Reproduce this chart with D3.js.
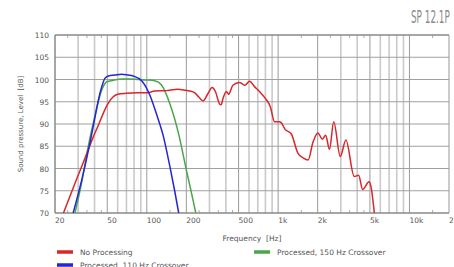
<!DOCTYPE html>
<html>
<head>
<meta charset="utf-8">
<script src="https://cdn.jsdelivr.net/npm/d3@7"></script>
<style>
  body { margin: 0; background: #fff; }
  text { font-family: "DejaVu Sans", Verdana, sans-serif; fill: #555; }
</style>
</head>
<body>
<script>
// frequency response of SP 12.1P
var freqTicks = [20, 50, 100, 200, 500, 1000, 2000, 5000, 10000, 20000];
var freqLabels = ["20", "50", "100", "200", "500", "1k", "2k", "5k", "10k", "20k"];
var minorTicks = [25, 35, 45, 150, 250, 350, 450, 1500, 2500, 3500, 4500, 15000];
var dbTicks = [70, 75, 80, 85, 90, 95, 100, 105, 110];

var redFreq = [23.2, 28.4, 32, 35.8, 39, 42.6, 46, 50, 55, 60, 70, 85, 100, 115, 140, 172, 195, 212, 232, 250, 268, 293, 314, 333, 358, 368, 381, 404, 420, 452, 508, 558, 606, 661, 720, 807, 872, 939, 1020, 1054, 1130, 1258, 1416, 1548, 1692, 1846, 2008, 2170, 2300, 2460, 2650, 2974, 3280, 3800, 4100, 4400, 4930, 5100, 5400];
var redDb   = [70, 76.7, 80.5, 84.2, 87.0, 89.6, 92.0, 94.3, 96.0, 96.7, 96.9, 97.0, 97.0, 97.4, 97.5, 97.8, 97.6, 97.4, 97.0, 96.0, 95.2, 96.9, 98.2, 97.3, 94.5, 94.3, 95.8, 97.3, 96.7, 98.7, 99.3, 98.7, 99.6, 98.4, 97.3, 95.6, 93.9, 90.5, 90.5, 90.3, 88.8, 87.8, 83.4, 82.4, 81.9, 86.0, 88.0, 86.6, 87.5, 84.3, 90.5, 82.7, 86.4, 78.2, 78.5, 75.3, 77.0, 75.8, 70];

var blueFreq = [27.5, 32, 36.9, 40, 44, 48.1, 51, 57, 64.2, 72, 78.6, 91.4, 105.4, 118, 133, 150, 163, 175];
var blueDb   = [70, 77.5, 85.7, 91, 96.9, 100.3, 100.8, 101.0, 101.2, 101.0, 100.8, 99.7, 96.5, 92.4, 87.5, 80.4, 75, 70];

var greenFreq = [28.4, 32, 35.8, 40, 45.3, 49.6, 55, 64, 75, 85.6, 100, 115, 129, 150, 174, 200, 225, 236];
var greenDb   = [70, 77, 84.9, 91.5, 97.6, 99.5, 99.8, 100.1, 100.1, 100.0, 99.9, 99.7, 98.8, 94.5, 88.0, 79.7, 72.9, 70];

var seriesNames = ["No Processing", "Processed, 110 Hz Crossover", "Processed, 150 Hz Crossover"];
var seriesColors = ["#d8262b", "#2424d8", "#4aa64a"];

var W = 454, H = 267;
var pLeft = 55, pRight = 449, pTop = 35, pBottom = 213;

var svg = d3.select("body").append("svg")
    .attr("width", W)
    .attr("height", H);

var x = d3.scaleLog().domain([20, 20000]).range([pLeft, pRight]);
var y = d3.scaleLinear().domain([70, 110]).range([pBottom, pTop]);

// vertical grid, every 1-2-..-9 of each decade
var gridF = [];
[10, 100, 1000, 10000].forEach(function(dec) {
    for (var k = 1; k <= 9; k++) {
        var f = dec * k;
        if (f > 20 && f < 20000) gridF.push(f);
    }
});
var strong = function(f) {
    var m = Math.round(f / Math.pow(10, Math.floor(Math.log10(f) + 1e-9)));
    return m === 1 || m === 2 || m === 5;
};

svg.append("g").selectAll("line").data(gridF).enter().append("line")
    .attr("x1", function(d) { return x(d); })
    .attr("x2", function(d) { return x(d); })
    .attr("y1", pTop).attr("y2", pBottom)
    .attr("stroke", function(d) { return strong(d) ? "#9a9a9a" : "#cacaca"; })
    .attr("stroke-width", function(d) { return strong(d) ? 1 : 1.6; });

svg.append("g").selectAll("line").data(dbTicks.slice(1, -1)).enter().append("line")
    .attr("x1", pLeft).attr("x2", pRight)
    .attr("y1", function(d) { return y(d); })
    .attr("y2", function(d) { return y(d); })
    .attr("stroke", "#a0a0a0")
    .attr("stroke-width", 1.2);

// minor ticks top and bottom
var mt = svg.append("g");
minorTicks.forEach(function(f) {
    mt.append("line").attr("x1", x(f)).attr("x2", x(f)).attr("y1", pTop).attr("y2", pTop + 3)
        .attr("stroke", "#aaa");
    mt.append("line").attr("x1", x(f)).attr("x2", x(f)).attr("y1", pBottom).attr("y2", pBottom - 3)
        .attr("stroke", "#aaa");
});

// frame
svg.append("line").attr("x1", pLeft).attr("x2", pRight).attr("y1", pTop).attr("y2", pTop)
    .attr("stroke", "#888").attr("stroke-width", 1.5);
svg.append("line").attr("x1", pLeft).attr("x2", pRight).attr("y1", pBottom).attr("y2", pBottom)
    .attr("stroke", "#888").attr("stroke-width", 1.5);
svg.append("line").attr("x1", pLeft).attr("x2", pLeft).attr("y1", pTop).attr("y2", pBottom)
    .attr("stroke", "#888").attr("stroke-width", 1.5);
svg.append("line").attr("x1", pRight).attr("x2", pRight).attr("y1", pTop).attr("y2", pBottom)
    .attr("stroke", "#999").attr("stroke-width", 1);

// tick labels
svg.append("g").selectAll("text").data(freqTicks).enter().append("text")
    .attr("x", function(d) { return x(d); })
    .attr("y", pBottom + 10)
    .attr("font-size", 7.5)
    .text(function(d, i) { return freqLabels[i]; });

svg.append("g").selectAll("text").data(dbTicks).enter().append("text")
    .attr("x", pLeft - 6)
    .attr("y", function(d) { return y(d) + 3; })
    .attr("text-anchor", "end")
    .attr("font-size", 7.5)
    .text(function(d) { return d; });

// axis titles
svg.append("text")
    .attr("x", 252).attr("y", 241)
    .attr("text-anchor", "middle")
    .attr("font-size", 7.5)
    .attr("xml:space", "preserve")
    .text("Frequency  [Hz]");

svg.append("text")
    .attr("transform", "translate(23," + 124 + ") rotate(-90)")
    .attr("text-anchor", "middle")
    .attr("font-size", 7)
    .attr("xml:space", "preserve")
    .text("Sound pressure, Level  [dB]");

// model name, squeezed horizontally
svg.append("text")
    .attr("transform", "translate(411,23) scale(0.58,1)")
    .attr("font-size", 17)
    .style("font-family", "'DejaVu Sans Condensed', sans-serif")
    .style("fill", "#8a8a8a")
    .text("SP 12.1P");

// curves
svg.append("clipPath").attr("id", "plot")
    .append("rect").attr("x", pLeft).attr("y", pTop).attr("width", pRight - pLeft).attr("height", pBottom - pTop);

var line = d3.line()
    .x(function(d) { return x(d[0]); })
    .y(function(d) { return y(d[1]); })
    .curve(d3.curveMonotoneX);

var series = [
    d3.zip(redFreq, redDb),
    d3.zip(blueFreq, blueDb),
    d3.zip(greenFreq, greenDb)
];

// green and red first, blue on top
[2, 0, 1].forEach(function(i) {
    svg.append("path")
        .attr("clip-path", "url(#plot)")
        .attr("d", line(series[i]))
        .attr("fill", "none")
        .attr("stroke", seriesColors[i])
        .attr("stroke-width", 1.5);
});

// legend
var legendPos = [[57, 252], [57, 265], [254, 252]];
legendPos.forEach(function(p, i) {
    svg.append("line")
        .attr("x1", p[0]).attr("x2", p[0] + 16)
        .attr("y1", p[1]).attr("y2", p[1])
        .attr("stroke", seriesColors[i])
        .attr("stroke-width", 3.5);
    svg.append("text")
        .attr("x", p[0] + 23).attr("y", p[1] + 3)
        .attr("font-size", 7.5)
        .text(seriesNames[i]);
});
</script>
</body>
</html>
